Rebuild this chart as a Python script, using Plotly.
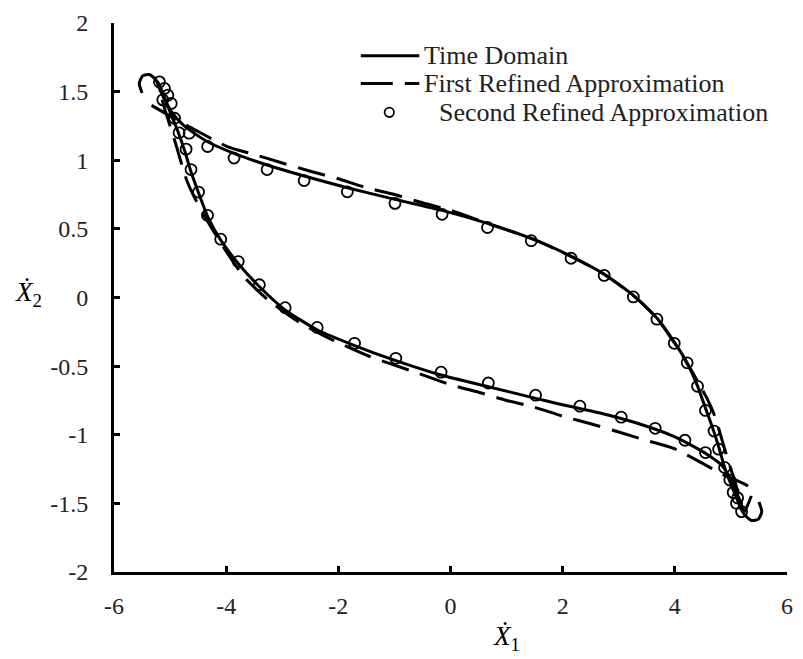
import plotly.graph_objects as go

# ---------------- data ----------------
# Time Domain (solid): hooks at the corners, upper branch (L->R), lower branch (R->L)
hook_tl_x = [-5.50, -5.55, -5.49, -5.37, -5.26]
hook_tl_y = [1.49, 1.56, 1.615, 1.625, 1.59]
upper_x = [-5.18, -5.08, -4.97, -4.80, -4.60, -4.33, -3.86, -3.27, -2.61, -1.84, -0.99, -0.15,
           0.66, 1.44, 2.15, 2.74, 3.26, 3.68, 3.99, 4.21, 4.40, 4.55, 4.69, 4.79, 4.89, 5.00,
           5.10, 5.18, 5.24]
upper_y = [1.52, 1.43, 1.35, 1.27, 1.205, 1.135, 1.05, 0.965, 0.885, 0.80, 0.715, 0.635,
           0.54, 0.43, 0.30, 0.17, 0.015, -0.15, -0.325, -0.47, -0.64, -0.81, -0.97, -1.10,
           -1.24, -1.36, -1.46, -1.54, -1.58]
lower_x = [5.15, 5.05, 4.95, 4.83, 4.60, 4.42, 4.00, 3.36, 2.65, 1.88, 1.52, 0.675, -0.17,
           -0.975, -1.71, -2.38, -2.95, -3.41, -3.79, -4.10, -4.33, -4.49, -4.63, -4.74,
           -4.86, -4.98, -5.09, -5.18, -5.24]
lower_y = [-1.47, -1.37, -1.29, -1.22, -1.15, -1.105, -1.015, -0.92, -0.84, -0.77, -0.735,
           -0.65, -0.565, -0.46, -0.35, -0.235, -0.09, 0.08, 0.25, 0.42, 0.59, 0.76, 0.92,
           1.07, 1.21, 1.33, 1.45, 1.54, 1.58]
hook_br_x = [5.26, 5.37, 5.49, 5.55, 5.50]
hook_br_y = [-1.59, -1.625, -1.615, -1.56, -1.49]

# First Refined Approximation (dashed)
fra_upper_x = [-5.33, -4.86, -3.98, -3.48, -3.00, -2.50, -2.00, -1.50, -1.00, -0.50, 0.00,
               0.66, 1.44, 2.15, 2.74, 3.26, 3.68, 3.99, 4.25, 4.42, 4.58, 4.70, 4.80, 4.90,
               5.00, 5.10, 5.18, 5.22]
fra_upper_y = [1.40, 1.29, 1.10, 1.04, 0.98, 0.92, 0.865, 0.80, 0.75, 0.69, 0.635,
               0.54, 0.43, 0.30, 0.17, 0.015, -0.15, -0.33, -0.50, -0.62, -0.74, -0.85,
               -0.98, -1.12, -1.25, -1.38, -1.50, -1.57]
fra_lower_x = [5.38, 4.86, 3.98, 3.48, 3.00, 2.50, 2.00, 1.50, 1.00, 0.50, 0.00, -0.66,
               -1.44, -2.15, -2.74, -3.26, -3.68, -3.99, -4.25, -4.42, -4.58, -4.70, -4.80,
               -4.90, -5.00, -5.10, -5.18, -5.22]
fra_lower_y = [-1.40, -1.29, -1.10, -1.04, -0.98, -0.92, -0.865, -0.80, -0.75, -0.69,
               -0.635, -0.54, -0.43, -0.30, -0.17, -0.015, 0.15, 0.33, 0.50, 0.62, 0.74,
               0.85, 0.98, 1.12, 1.25, 1.38, 1.50, 1.57]

# Second Refined Approximation (circles)
sra_x = [-5.19, -5.10, -5.04, -4.98, -4.92, -4.66, -4.33, -3.86, -3.27, -2.61, -1.84, -0.99,
         -0.15, 0.66, 1.44, 2.15, 2.74, 3.26, 3.68, 3.99, 4.22, 4.405, 4.546, 4.699, 4.781,
         4.887, 4.98, 5.04, 5.10, 5.19, 5.12, 4.546, 4.18, 3.65, 3.044, 2.307, 1.517, 0.675,
         -0.168, -0.975, -1.711, -2.377, -2.948, -3.408, -3.785, -4.097, -4.333, -4.492,
         -4.627, -4.715, -4.84, -5.13]
sra_y = [1.571, 1.523, 1.474, 1.414, 1.306, 1.197, 1.10, 1.016, 0.932, 0.852, 0.770, 0.686,
         0.606, 0.510, 0.414, 0.286, 0.161, 0.004, -0.158, -0.334, -0.476, -0.647, -0.823,
         -0.973, -1.105, -1.238, -1.33, -1.42, -1.50, -1.56, -1.46, -1.13, -1.04, -0.953,
         -0.872, -0.792, -0.712, -0.623, -0.544, -0.443, -0.334, -0.218, -0.074, 0.093, 0.262,
         0.425, 0.599, 0.768, 0.932, 1.081, 1.20, 1.44]

series_names = ["Time Domain", "First Refined Approximation", "Second Refined Approximation"]

x_tickvals = [-6, -4, -2, 0, 2, 4, 6]
x_ticktext = ["-6", "-4", "-2", "0", "2", "4", "6"]
y_tickvals = [-2, -1.5, -1, -0.5, 0, 0.5, 1, 1.5, 2]
y_ticktext = ["-2", "-1.5", "-1", "-0.5", "0", "0.5", "1", "1.5", "2"]

# ---------------- figure ----------------
td_x = hook_tl_x + upper_x + lower_x + upper_x + hook_br_x
td_y = hook_tl_y + upper_y + lower_y + upper_y + hook_br_y
fra_x = fra_upper_x + fra_lower_x
fra_y = fra_upper_y + fra_lower_y

SERIF = "Liberation Serif, Times New Roman, serif"
W, H = 803, 659
ML, MR, MT, MB = 114, 10, 19, 87
PW, PH = W - ML - MR, H - MT - MB


def px(xp):
    return (xp - ML) / PW


def py(yp):
    return 1 - (yp - MT) / PH


fig = go.Figure()
fig.add_trace(go.Scatter(x=td_x, y=td_y, mode="lines", name=series_names[0], showlegend=False,
                         line=dict(color="black", width=3, shape="spline", smoothing=0.6)))
fig.add_trace(go.Scatter(x=fra_x, y=fra_y, mode="lines", name=series_names[1], showlegend=False,
                         line=dict(color="black", width=3, dash="28px,12px",
                                   shape="spline", smoothing=0.6)))
fig.add_trace(go.Scatter(x=sra_x, y=sra_y, mode="markers", name=series_names[2], showlegend=False,
                         marker=dict(symbol="circle-open", size=11, color="black",
                                     line=dict(width=1.8, color="black"))))

axis_common = dict(showgrid=False, zeroline=False, showline=True, linecolor="black",
                   linewidth=3, ticks="inside", ticklen=6, tickwidth=3, tickcolor="black",
                   tickfont=dict(family=SERIF, size=24, color="#222"), mirror=False)

fig.update_xaxes(range=[-6, 6], tickvals=x_tickvals, ticktext=x_ticktext,
                 ticklabelstandoff=10, **axis_common)
fig.update_yaxes(range=[-2, 2], tickvals=y_tickvals, ticktext=y_ticktext,
                 ticklabelstandoff=18, **axis_common)

# axis titles (horizontal, as in the reference)
fig.add_annotation(text="<i>Ẋ</i><sub>1</sub>", xref="paper", yref="paper",
                   x=px(510), y=py(638), xanchor="center", yanchor="middle", showarrow=False,
                   font=dict(family=SERIF, size=27, color="black"))
fig.add_annotation(text="<i>Ẋ</i><sub>2</sub>", xref="paper", yref="paper",
                   x=px(28), y=py(292), xanchor="center", yanchor="middle", showarrow=False,
                   font=dict(family=SERIF, size=27, color="black"))

# legend (Excel-like layout)
leg_rows = [52, 80, 109]
leg_text_x = [425, 425, 440]
for name, ry, tx in zip(series_names, leg_rows, leg_text_x):
    fig.add_annotation(text=name, xref="paper", yref="paper", x=px(tx), y=py(ry),
                       xanchor="left", yanchor="middle", showarrow=False,
                       font=dict(family=SERIF, size=26, color="#222"))
fig.add_shape(type="line", xref="paper", yref="paper", x0=px(363), x1=px(422),
              y0=py(leg_rows[0]), y1=py(leg_rows[0]), line=dict(color="black", width=3))
fig.add_shape(type="line", xref="paper", yref="paper", x0=px(363), x1=px(422),
              y0=py(leg_rows[1]), y1=py(leg_rows[1]),
              line=dict(color="black", width=3, dash="32px,12px"))
fig.add_shape(type="circle", xref="paper", yref="paper", x0=px(387), x1=px(396.5),
              y0=py(leg_rows[2] + 4.75), y1=py(leg_rows[2] - 4.75),
              line=dict(color="black", width=1.8))

fig.update_layout(
    width=W, height=H,
    margin=dict(l=ML, r=MR, t=MT, b=MB),
    paper_bgcolor="white", plot_bgcolor="white",
    showlegend=False,
)

fig.write_html("out.html")
